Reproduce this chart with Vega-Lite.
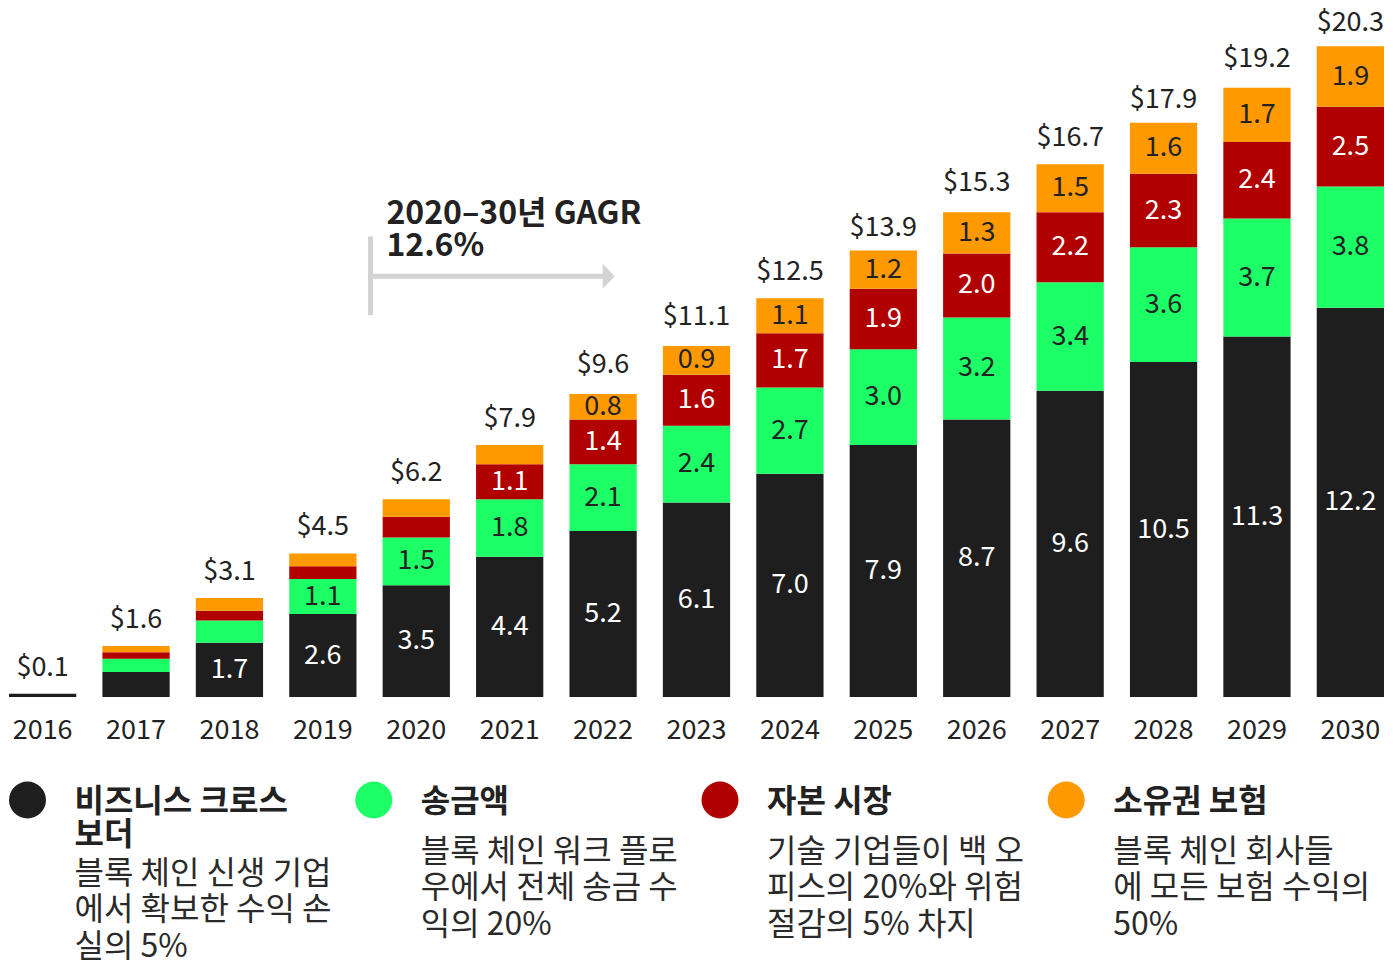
{
  "$schema": "https://vega.github.io/schema/vega-lite/v6.json",
  "padding": {"left": 8, "top": 0, "right": 0, "bottom": 10},
  "background": "white",
  "config": {"view": {"stroke": null}, "font": "Noto Sans CJK KR", "concat": {"spacing": 38}},
  "datasets": {
    "segments": [
      {"year": 2016, "series": "비즈니스 크로스 보더", "order": 0, "value": 0.1},
      {"year": 2017, "series": "비즈니스 크로스 보더", "order": 0, "value": 0.78},
      {"year": 2017, "series": "송금액", "order": 1, "value": 0.42},
      {"year": 2017, "series": "자본 시장", "order": 2, "value": 0.2},
      {"year": 2017, "series": "소유권 보험", "order": 3, "value": 0.2},
      {"year": 2018, "series": "비즈니스 크로스 보더", "order": 0, "value": 1.7},
      {"year": 2018, "series": "송금액", "order": 1, "value": 0.7},
      {"year": 2018, "series": "자본 시장", "order": 2, "value": 0.3},
      {"year": 2018, "series": "소유권 보험", "order": 3, "value": 0.4},
      {"year": 2019, "series": "비즈니스 크로스 보더", "order": 0, "value": 2.6},
      {"year": 2019, "series": "송금액", "order": 1, "value": 1.1},
      {"year": 2019, "series": "자본 시장", "order": 2, "value": 0.4},
      {"year": 2019, "series": "소유권 보험", "order": 3, "value": 0.4},
      {"year": 2020, "series": "비즈니스 크로스 보더", "order": 0, "value": 3.5},
      {"year": 2020, "series": "송금액", "order": 1, "value": 1.5},
      {"year": 2020, "series": "자본 시장", "order": 2, "value": 0.65},
      {"year": 2020, "series": "소유권 보험", "order": 3, "value": 0.55},
      {"year": 2021, "series": "비즈니스 크로스 보더", "order": 0, "value": 4.4},
      {"year": 2021, "series": "송금액", "order": 1, "value": 1.8},
      {"year": 2021, "series": "자본 시장", "order": 2, "value": 1.1},
      {"year": 2021, "series": "소유권 보험", "order": 3, "value": 0.6},
      {"year": 2022, "series": "비즈니스 크로스 보더", "order": 0, "value": 5.2},
      {"year": 2022, "series": "송금액", "order": 1, "value": 2.1},
      {"year": 2022, "series": "자본 시장", "order": 2, "value": 1.4},
      {"year": 2022, "series": "소유권 보험", "order": 3, "value": 0.8},
      {"year": 2023, "series": "비즈니스 크로스 보더", "order": 0, "value": 6.1},
      {"year": 2023, "series": "송금액", "order": 1, "value": 2.4},
      {"year": 2023, "series": "자본 시장", "order": 2, "value": 1.6},
      {"year": 2023, "series": "소유권 보험", "order": 3, "value": 0.9},
      {"year": 2024, "series": "비즈니스 크로스 보더", "order": 0, "value": 7.0},
      {"year": 2024, "series": "송금액", "order": 1, "value": 2.7},
      {"year": 2024, "series": "자본 시장", "order": 2, "value": 1.7},
      {"year": 2024, "series": "소유권 보험", "order": 3, "value": 1.1},
      {"year": 2025, "series": "비즈니스 크로스 보더", "order": 0, "value": 7.9},
      {"year": 2025, "series": "송금액", "order": 1, "value": 3.0},
      {"year": 2025, "series": "자본 시장", "order": 2, "value": 1.9},
      {"year": 2025, "series": "소유권 보험", "order": 3, "value": 1.2},
      {"year": 2026, "series": "비즈니스 크로스 보더", "order": 0, "value": 8.7},
      {"year": 2026, "series": "송금액", "order": 1, "value": 3.2},
      {"year": 2026, "series": "자본 시장", "order": 2, "value": 2.0},
      {"year": 2026, "series": "소유권 보험", "order": 3, "value": 1.3},
      {"year": 2027, "series": "비즈니스 크로스 보더", "order": 0, "value": 9.6},
      {"year": 2027, "series": "송금액", "order": 1, "value": 3.4},
      {"year": 2027, "series": "자본 시장", "order": 2, "value": 2.2},
      {"year": 2027, "series": "소유권 보험", "order": 3, "value": 1.5},
      {"year": 2028, "series": "비즈니스 크로스 보더", "order": 0, "value": 10.5},
      {"year": 2028, "series": "송금액", "order": 1, "value": 3.6},
      {"year": 2028, "series": "자본 시장", "order": 2, "value": 2.3},
      {"year": 2028, "series": "소유권 보험", "order": 3, "value": 1.6},
      {"year": 2029, "series": "비즈니스 크로스 보더", "order": 0, "value": 11.3},
      {"year": 2029, "series": "송금액", "order": 1, "value": 3.7},
      {"year": 2029, "series": "자본 시장", "order": 2, "value": 2.4},
      {"year": 2029, "series": "소유권 보험", "order": 3, "value": 1.7},
      {"year": 2030, "series": "비즈니스 크로스 보더", "order": 0, "value": 12.2},
      {"year": 2030, "series": "송금액", "order": 1, "value": 3.8},
      {"year": 2030, "series": "자본 시장", "order": 2, "value": 2.5},
      {"year": 2030, "series": "소유권 보험", "order": 3, "value": 1.9}
    ],
    "totals": [
      {"year": 2016, "total": 0.1},
      {"year": 2017, "total": 1.6},
      {"year": 2018, "total": 3.1},
      {"year": 2019, "total": 4.5},
      {"year": 2020, "total": 6.2},
      {"year": 2021, "total": 7.9},
      {"year": 2022, "total": 9.6},
      {"year": 2023, "total": 11.1},
      {"year": 2024, "total": 12.5},
      {"year": 2025, "total": 13.9},
      {"year": 2026, "total": 15.3},
      {"year": 2027, "total": 16.7},
      {"year": 2028, "total": 17.9},
      {"year": 2029, "total": 19.2},
      {"year": 2030, "total": 20.3}
    ],
    "arrowLines": [
      {"part": "bracket", "yearFrom": 2019.51, "yearTo": 2019.51, "lo": 11.97, "hi": 14.44},
      {"part": "shaft", "yearFrom": 2019.51, "yearTo": 2022.0, "lo": 13.19, "hi": 13.19}
    ],
    "arrowHead": [{"year": 2022.06, "value": 13.19}],
    "note": [{"year": 2019.68, "value": 14.82, "text": ["2020–30년 GAGR", "12.6%"]}],
    "legend": [
      {"series": "비즈니스 크로스 보더", "title": ["비즈니스 크로스", "보더"], "titleLines": 2, "desc": ["블록 체인 신생 기업", "에서 확보한 수익 손", "실의 5%"]},
      {"series": "송금액", "title": ["송금액"], "titleLines": 1, "desc": ["블록 체인 워크 플로", "우에서 전체 송금 수", "익의 20%"]},
      {"series": "자본 시장", "title": ["자본 시장"], "titleLines": 1, "desc": ["기술 기업들이 백 오", "피스의 20%와 위험", "절감의 5% 차지"]},
      {"series": "소유권 보험", "title": ["소유권 보험"], "titleLines": 1, "desc": ["블록 체인 회사들", "에 모든 보험 수익의", "50%"]}
    ]
  },
  "vconcat": [
    {
      "width": 1375,
      "height": 697,
      "resolve": {"scale": {"x": "independent"}},
      "layer": [
        {
          "layer": [
            {
              "data": {"name": "segments"},
              "mark": {"type": "bar"},
              "encoding": {
                "x": {"field": "year", "type": "ordinal", "scale": {"paddingInner": 0.28, "paddingOuter": 0},
                  "axis": {"title": null, "labelFontSize": 27, "labelColor": "#222222", "labelAngle": 0, "ticks": false, "tickSize": 0, "domain": false, "labelPadding": 20, "labelFont": "Noto Sans CJK KR"}},
                "y": {"field": "value", "type": "quantitative", "stack": "zero", "scale": {"domain": [0, 21.85], "nice": false}, "axis": null},
                "color": {"field": "series", "type": "nominal",
                  "scale": {"domain": ["비즈니스 크로스 보더", "송금액", "자본 시장", "소유권 보험"], "range": ["#1e1e1e", "#1dff66", "#b00000", "#ff9900"]},
                  "legend": null},
                "order": {"field": "order", "type": "quantitative"}
              }
            },
            {
              "data": {"name": "segments"},
              "mark": {"type": "text", "fontSize": 27, "baseline": "middle", "align": "center"},
              "encoding": {
                "x": {"field": "year", "type": "ordinal"},
                "y": {"field": "value", "type": "quantitative", "stack": "zero", "bandPosition": 0.5, "scale": {"domain": [0, 21.85], "nice": false}},
                "detail": {"field": "series", "type": "nominal"},
                "order": {"field": "order", "type": "quantitative"},
                "text": {"condition": {"test": "datum.value >= 0.8", "field": "value", "type": "quantitative", "format": ".1f"}, "value": ""},
                "color": {"condition": {"test": "datum.order == 0 || datum.order == 2", "value": "#ffffff"}, "value": "#222222"}
              }
            },
            {
              "data": {"name": "totals"},
              "mark": {"type": "text", "fontSize": 27, "baseline": "bottom", "align": "center", "dy": -12, "color": "#222222"},
              "encoding": {
                "x": {"field": "year", "type": "ordinal"},
                "y": {"field": "total", "type": "quantitative", "scale": {"domain": [0, 21.85], "nice": false}},
                "text": {"field": "total", "type": "quantitative", "format": "$.1f"}
              }
            }
          ]
        },
        {
          "layer": [
            {
              "data": {"name": "arrowLines"},
              "mark": {"type": "rule", "color": "#d3d3d3", "strokeWidth": 5},
              "encoding": {
                "x": {"field": "yearFrom", "type": "quantitative", "scale": {"domain": [2015.64, 2030.36], "nice": false, "zero": false}, "axis": null},
                "x2": {"field": "yearTo"},
                "y": {"field": "lo", "type": "quantitative", "scale": {"domain": [0, 21.85], "nice": false}},
                "y2": {"field": "hi"}
              }
            },
            {
              "data": {"name": "arrowHead"},
              "mark": {"type": "point", "shape": "M-0.48,-1L0.48,0L-0.48,1Z", "filled": true, "size": 625, "color": "#d3d3d3", "opacity": 1},
              "encoding": {
                "x": {"field": "year", "type": "quantitative"},
                "y": {"field": "value", "type": "quantitative", "scale": {"domain": [0, 21.85], "nice": false}}
              }
            },
            {
              "data": {"name": "note"},
              "mark": {"type": "text", "align": "left", "baseline": "alphabetic", "fontSize": 32, "fontWeight": "bold", "lineHeight": 32, "color": "#222222"},
              "encoding": {
                "x": {"field": "year", "type": "quantitative"},
                "y": {"field": "value", "type": "quantitative", "scale": {"domain": [0, 21.85], "nice": false}},
                "text": {"field": "text", "type": "nominal"}
              }
            }
          ]
        }
      ]
    },
    {
      "width": 1385,
      "height": 172,
      "data": {"name": "legend"},
      "layer": [
        {
          "mark": {"type": "point", "shape": "circle", "filled": true, "size": 1369, "opacity": 1, "yOffset": 13},
          "encoding": {
            "x": {"field": "series", "type": "nominal", "bandPosition": 0.0534,
              "scale": {"type": "band", "domain": ["비즈니스 크로스 보더", "송금액", "자본 시장", "소유권 보험"], "paddingInner": 0, "paddingOuter": 0}, "axis": null},
            "y": {"datum": 0, "type": "quantitative", "scale": {"domain": [0, 7.82], "reverse": true, "nice": false, "zero": false}, "axis": null},
            "color": {"field": "series", "type": "nominal",
              "scale": {"domain": ["비즈니스 크로스 보더", "송금액", "자본 시장", "소유권 보험"], "range": ["#1e1e1e", "#1dff66", "#b00000", "#ff9900"]},
              "legend": null}
          }
        },
        {
          "mark": {"type": "text", "align": "left", "baseline": "top", "dx": 47, "fontSize": 32, "fontWeight": "bold", "lineHeight": 32.5, "color": "#222222"},
          "encoding": {
            "x": {"field": "series", "type": "nominal", "bandPosition": 0.0534},
            "y": {"datum": 0, "type": "quantitative"},
            "text": {"field": "title", "type": "nominal"}
          }
        },
        {
          "mark": {"type": "text", "align": "left", "baseline": "top", "dx": 47, "dy": 28, "fontSize": 32, "lineHeight": 36.5, "color": "#2a2a2a"},
          "encoding": {
            "x": {"field": "series", "type": "nominal", "bandPosition": 0.0534},
            "y": {"field": "titleLines", "type": "quantitative"},
            "text": {"field": "desc", "type": "nominal"}
          }
        }
      ]
    }
  ]
}
